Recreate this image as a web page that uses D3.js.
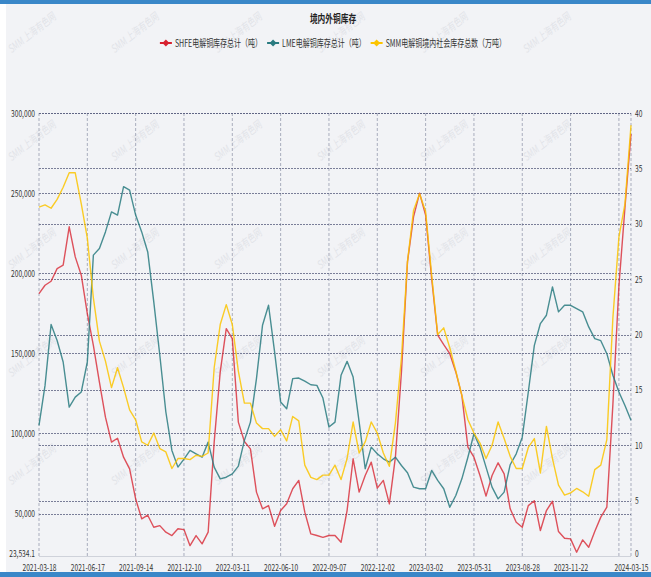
<!DOCTYPE html>
<html>
<head>
<meta charset="utf-8">
<script src="https://cdn.jsdelivr.net/npm/d3@7"></script>
<style>
  body { margin: 0; background: #fff; }
  text { font-family: "Noto Sans CJK SC", "Liberation Sans", sans-serif; }
</style>
</head>
<body>
<svg id="chart"></svg>
<script>
// 데이터 (값은 그림에서 읽음)
const xLabels = ["2021-03-18", "2021-06-17", "2021-09-14", "2021-12-10", "2022-03-11", "2022-06-10",
                 "2022-09-07", "2022-12-02", "2023-03-02", "2023-05-31", "2023-08-28", "2023-11-22", "2024-03-15"];

// SHFE 电解铜库存 (吨), 单位 千吨
const shfe = [187.3, 192.5, 195, 202.9, 205, 229, 210.2, 198.8, 174.8, 155, 132.1, 110.2, 94.6, 97, 85.2, 77.9,
  59.2, 46.7, 49, 41.5, 42.5, 38.4, 36.3, 40.5, 40, 30, 36.3, 31.1, 38.4, 94.6, 138.4, 165.4,
  159.2, 107.1, 95, 90.4, 63.4, 53, 55, 42.1, 51.9, 56.1, 65.5, 70.7, 50.9, 37.3, 36.3, 35.2,
  36.3, 36.3, 32.1, 51.9, 84.2, 63.4, 73.8, 82.1, 65.9, 70.7, 56.1, 85.2, 138.4, 207.1, 235.2, 250,
  236.3, 196.7, 161.3, 155.4, 149.8, 138.4, 123.8, 91.5, 85.2, 73.8, 60.9, 73.8, 81.7, 74.8, 53, 44.6,
  41.5, 55, 58, 39.4, 51.9, 57.7, 38.8, 34.6, 34.2, 25.9, 33.6, 29, 38.8, 47.8, 54, 118,
  192, 241, 287];

// LME 电解铜库存 (吨), 单位 千吨
const lme = [105, 130, 168, 158, 144.6, 116.5, 122.7, 125.9, 144.6, 211.3, 215.4, 225.8, 238.3, 236.3, 254, 251.9,
  236.3, 225.8, 213.3, 182.1, 148.8, 113.4, 89.4, 79, 84, 89.4, 87.3, 85.2, 94.6, 79, 71.7, 72.7,
  74.8, 79.6, 95.7, 107.1, 134.2, 167.5, 180, 150.9, 119.6, 115.4, 134.2, 134.6, 132.7, 130.4, 130, 122.1,
  104, 107.1, 136.3, 145, 135.2, 107.1, 78, 91.5, 87.3, 84.2, 82.1, 85.2, 80, 75.5, 66.5, 65.5,
  65.5, 76.9, 70.7, 65.5, 54, 61.3, 71.7, 85.2, 99.8, 91.5, 79, 66.5, 59.2, 63.4, 80.5, 87.3,
  97.7, 125.9, 155, 168.6, 173.8, 191.5, 175.9, 180, 180, 177.9, 175.9, 166.5, 159.2, 157.9, 149.8, 136.3,
  125.9, 117.5, 108.2];

// SMM 电解铜境内社会库存 (万吨)
const smm = [31.5, 31.7, 31.4, 32.2, 33.3, 34.6, 34.6, 31.8, 28.7, 23.3, 19.4, 17.6, 15.2, 17, 15.2, 13.2,
  12.3, 10.3, 10, 11.1, 9.7, 9.4, 7.9, 8.8, 8.8, 8.7, 9.1, 9, 9.3, 17, 20.9, 22.7,
  20.9, 16.7, 13.8, 13.8, 12, 11.5, 11.5, 10.8, 11.4, 10.4, 12.6, 12.2, 8.2, 7.1, 6.9, 7.3,
  7.3, 8.2, 6.9, 8.8, 12.1, 9.3, 10.3, 12.1, 11.1, 9.3, 8.1, 12, 17.9, 26.6, 31.2, 32.7,
  31.1, 25.4, 20, 20.6, 18.8, 16.7, 14.5, 12.3, 11.1, 10.2, 8.8, 10, 12.1, 10.6, 9, 7.9,
  7.9, 9.8, 10.6, 7.5, 11.7, 8.8, 6.4, 5.5, 5.7, 6.1, 5.8, 5.4, 7.8, 8.2, 10.5, 21.5,
  28.8, 31.8, 38.9];

const leftTicks = [23534.1, 50000, 100000, 150000, 200000, 250000, 300000];
const rightTicks = [0, 5, 10, 15, 20, 25, 30, 35, 40];

const seriesNames = ["SHFE电解铜库存总计（吨）", "LME电解铜库存总计（吨）", "SMM电解铜境内社会库存总数（万吨）"];
const seriesColors = ["#d7222f", "#2a7b80", "#fcc400"];
const chartTitle = "境内外铜库存";
const watermark = "SMM 上海有色网";

var width = 651;
var height = 577;
var sx = 0.7; // 글자 가로 압축

const svg = d3.select("#chart")
  .attr("width", width)
  .attr("height", height);

// 배경
svg.append("rect").attr("width", width).attr("height", height).attr("fill", "#fff");
svg.append("rect").attr("x", 6).attr("y", 4).attr("width", width - 6).attr("height", 568).attr("fill", "#f2f3f6");
svg.append("rect").attr("width", width).attr("height", 4).attr("fill", "#3a87c8");
svg.append("rect").attr("y", 572).attr("width", width).attr("height", 5).attr("fill", "#3a87c8");

// 워터마크
const wm = svg.append("g");
for (var r = 0; r < 5; r++) {
  for (var c = 0; c < 6; c++) {
    wm.append("text")
      .attr("transform", "translate(" + (34 + c * 103) + "," + (36 + r * 108) + ") rotate(-38) scale(" + sx + ",1)")
      .attr("text-anchor", "middle")
      .attr("font-size", 11)
      .attr("font-style", "italic")
      .attr("fill", "#8a90a0")
      .attr("opacity", 0.16)
      .text(watermark);
  }
}

// 축의 범위
const xScale = d3.scaleLinear().domain([0, shfe.length - 1]).range([39, 631]);
const yLeft = d3.scaleLinear().domain([23534.1, 300000]).range([556, 113]);
const yRight = d3.scaleLinear().domain([0, 40]).range([556, 113]);

// x 그리드 (세로 점선)
const xGrid = d3.range(0, shfe.length, 8).concat([shfe.length - 1]);
svg.append("g")
  .selectAll("line")
  .data(xGrid)
  .enter().append("line")
  .attr("x1", d => xScale(d)).attr("x2", d => xScale(d))
  .attr("y1", 113).attr("y2", 556)
  .attr("stroke", "#a9adbd")
  .attr("stroke-width", 1)
  .attr("stroke-dasharray", "3,2");

// y 그리드 (가로 점선) - 왼쪽, 오른쪽 축 모두
svg.append("g")
  .selectAll("line")
  .data(leftTicks.slice(1).map(yLeft).concat(rightTicks.slice(1).map(yRight)))
  .enter().append("line")
  .attr("x1", 39).attr("x2", 631)
  .attr("y1", d => Math.round(d) + 0.5).attr("y2", d => Math.round(d) + 0.5)
  .attr("stroke", "#5a6080")
  .attr("stroke-width", 0.8)
  .attr("stroke-dasharray", "2,1");

// x축 선
svg.append("line")
  .attr("x1", 39).attr("x2", 631).attr("y1", 556.5).attr("y2", 556.5)
  .attr("stroke", "#cfd2da");

// 라인 그리기
[[shfe, yLeft, 1000, 0.78], [lme, yLeft, 1000, 0.85], [smm, yRight, 1, 0.85]].forEach((s, k) => {
  const line = d3.line()
    .x((d, i) => xScale(i))
    .y(d => s[1](d * s[2]));
  svg.append("path")
    .datum(s[0])
    .attr("d", line)
    .attr("fill", "none")
    .attr("stroke", seriesColors[k])
    .attr("stroke-width", 1.4)
    .attr("stroke-linejoin", "round")
    .style("opacity", s[3]);
});

// 왼쪽 축
const gl = svg.append("g")
  .attr("transform", "translate(39,0)")
  .call(d3.axisLeft(yLeft).tickValues(leftTicks).tickFormat(d3.format(",")).tickSize(0).tickPadding(4));
gl.select(".domain").remove();
gl.selectAll("text")
  .attr("x", -4 / sx)
  .attr("y", (d, i) => i === 0 ? -2.5 : 0)
  .attr("transform", "scale(" + sx + ",1)")
  .attr("font-size", 9.5)
  .attr("fill", "#333");

// 오른쪽 축
const gr = svg.append("g")
  .attr("transform", "translate(631,0)")
  .call(d3.axisRight(yRight).tickValues(rightTicks).tickSize(0).tickPadding(3));
gr.select(".domain").remove();
gr.selectAll("text")
  .attr("x", 4 / sx)
  .attr("y", (d, i) => i === 0 ? -2.5 : 0)
  .attr("transform", "scale(" + sx + ",1)")
  .attr("font-size", 9.5)
  .attr("fill", "#333");

// 아래 축
const xTickIdx = d3.range(0, xLabels.length - 1).map(i => i * 8).concat([shfe.length - 1]);
const gb = svg.append("g")
  .attr("transform", "translate(0,556)")
  .call(d3.axisBottom(xScale).tickValues(xTickIdx)
    .tickFormat((d, i) => xLabels[i]).tickSize(0).tickPadding(8));
gb.select(".domain").remove();
gb.selectAll("text")
  .attr("transform", "scale(" + sx + ",1)")
  .attr("font-size", 9.5)
  .attr("fill", "#333");

// 제목
svg.append("text")
  .attr("transform", "translate(333,23) scale(" + sx + ",1)")
  .attr("text-anchor", "middle")
  .attr("font-size", 11)
  .attr("font-weight", "bold")
  .attr("fill", "#222")
  .text(chartTitle);

// 범례
const legend = svg.append("g").attr("transform", "translate(0,43)");
const items = seriesNames.map((name, k) => {
  const g = legend.append("g");
  g.append("line").attr("x1", -6).attr("x2", 6).attr("stroke", seriesColors[k]).attr("stroke-width", 2);
  g.append("path").attr("d", "M0,-3.5L3.5,0L0,3.5L-3.5,0Z").attr("fill", seriesColors[k]);
  const t = g.append("text")
    .attr("transform", "translate(9,0) scale(" + sx + ",1)")
    .attr("dy", "0.35em")
    .attr("font-size", 10)
    .attr("fill", "#333")
    .text(name);
  return { g: g, w: 9 + t.node().getComputedTextLength() * sx };
});
const gap = 5;
const total = d3.sum(items, d => d.w + 6) + gap * (items.length - 1);
let cx = 333 - total / 2 + 6;
items.forEach(d => {
  d.g.attr("transform", "translate(" + cx + ",0)");
  cx += d.w + 6 + gap;
});
</script>
</body>
</html>
